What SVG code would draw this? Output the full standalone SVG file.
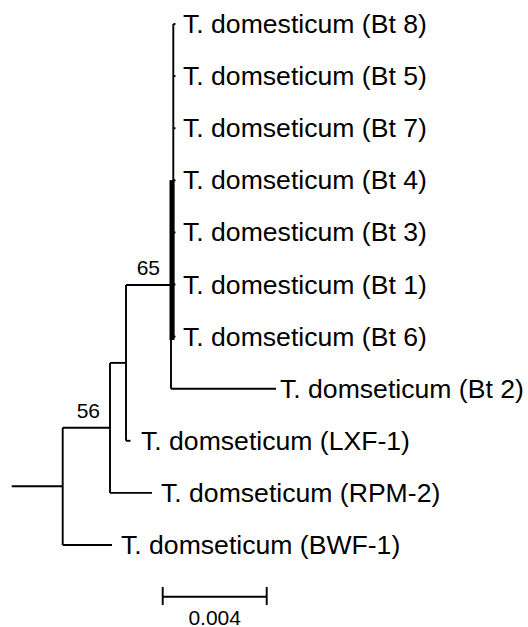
<svg xmlns="http://www.w3.org/2000/svg" width="528" height="627" viewBox="0 0 528 627">
  <style>
    .br { stroke: #000; stroke-width: 1.9; fill: none; stroke-linecap: butt; }
    .thick { stroke: #000; stroke-width: 5; fill: none; }
    .leaf { font-family: "Liberation Sans", Arial, sans-serif; font-size: 26.6px; fill: #000; }
    .boot { font-family: "Liberation Sans", Arial, sans-serif; font-size: 21px; fill: #000; text-anchor: end; }
    .scale { font-family: "Liberation Sans", Arial, sans-serif; font-size: 21px; fill: #000; text-anchor: middle; }
  </style>
  <rect width="528" height="627" fill="#fff"/>

  <!-- branches -->
  <g id="connectors">
    <!-- root -->
    <line class="br" x1="11.7" y1="486.3" x2="62.7" y2="486.3"/>
    <line class="br" x1="62.7" y1="427.7" x2="62.7" y2="545"/>
    <line class="br" x1="62.7" y1="545" x2="112" y2="545"/>
    <line class="br" x1="62.7" y1="427.7" x2="110" y2="427.7"/>
    <!-- node 56 -->
    <line class="br" x1="110" y1="362.9" x2="110" y2="492.9"/>
    <line class="br" x1="110" y1="492.9" x2="152" y2="492.9"/>
    <line class="br" x1="110" y1="362.9" x2="126" y2="362.9"/>
    <!-- inner node -->
    <line class="br" x1="126" y1="285" x2="126" y2="440.8"/>
    <line class="br" x1="126" y1="440.8" x2="130.5" y2="440.8"/>
    <line class="br" x1="126" y1="285" x2="172" y2="285"/>
    <!-- node 65 -->
    <line class="br" x1="171" y1="180.3" x2="171" y2="388.7"/>
    <line class="br" x1="171" y1="388.7" x2="276" y2="388.7"/>
    <!-- Bt polytomy -->
    <line class="br" x1="173.3" y1="24" x2="173.3" y2="336.6"/>
    <line class="thick" x1="172" y1="180.3" x2="172" y2="340"/>
    <line class="br" x1="173.3" y1="24" x2="175.5" y2="24"/>
    <line class="br" x1="173.3" y1="76.1" x2="175.5" y2="76.1"/>
    <line class="br" x1="173.3" y1="128.2" x2="175.5" y2="128.2"/>
    <line class="br" x1="173.3" y1="180.3" x2="175.5" y2="180.3"/>
    <line class="br" x1="173.3" y1="232.4" x2="175.5" y2="232.4"/>
    <line class="br" x1="173.3" y1="284.5" x2="175.5" y2="284.5"/>
    <line class="br" x1="173.3" y1="336.6" x2="175.5" y2="336.6"/>
  </g>

  <!-- taxa -->
  <g id="bt8"><text class="leaf" x="183" y="33">T. domesticum (Bt 8)</text></g>
  <g id="bt5"><text class="leaf" x="183" y="85.1">T. domseticum (Bt 5)</text></g>
  <g id="bt7"><text class="leaf" x="183" y="137.2">T. domseticum (Bt 7)</text></g>
  <g id="bt4"><text class="leaf" x="183" y="189.3">T. domseticum (Bt 4)</text></g>
  <g id="bt3"><text class="leaf" x="183" y="241.4">T. domesticum (Bt 3)</text></g>
  <g id="bt1"><text class="leaf" x="183" y="293.5">T. domesticum (Bt 1)</text></g>
  <g id="bt6"><text class="leaf" x="183" y="345.6">T. domseticum (Bt 6)</text></g>
  <g id="bt2"><text class="leaf" x="280" y="397.7">T. domseticum (Bt 2)</text></g>
  <g id="lxf1"><text class="leaf" x="141" y="449.8">T. domseticum (LXF-1)</text></g>
  <g id="rpm2"><text class="leaf" x="161" y="501.9">T. domseticum (RPM-2)</text></g>
  <g id="bwf1"><text class="leaf" x="121" y="554">T. domseticum (BWF-1)</text></g>

  <!-- bootstrap values -->
  <g id="boot65"><text class="boot" x="160" y="275">65</text></g>
  <g id="boot56"><text class="boot" x="100" y="418">56</text></g>

  <!-- scale bar -->
  <g id="scalebar">
    <line class="br" x1="162.7" y1="596.7" x2="266.7" y2="596.7"/>
    <line class="br" x1="162.7" y1="587" x2="162.7" y2="605"/>
    <line class="br" x1="266.7" y1="587" x2="266.7" y2="605"/>
    <text class="scale" x="214.7" y="624.5">0.004</text>
  </g>
</svg>
